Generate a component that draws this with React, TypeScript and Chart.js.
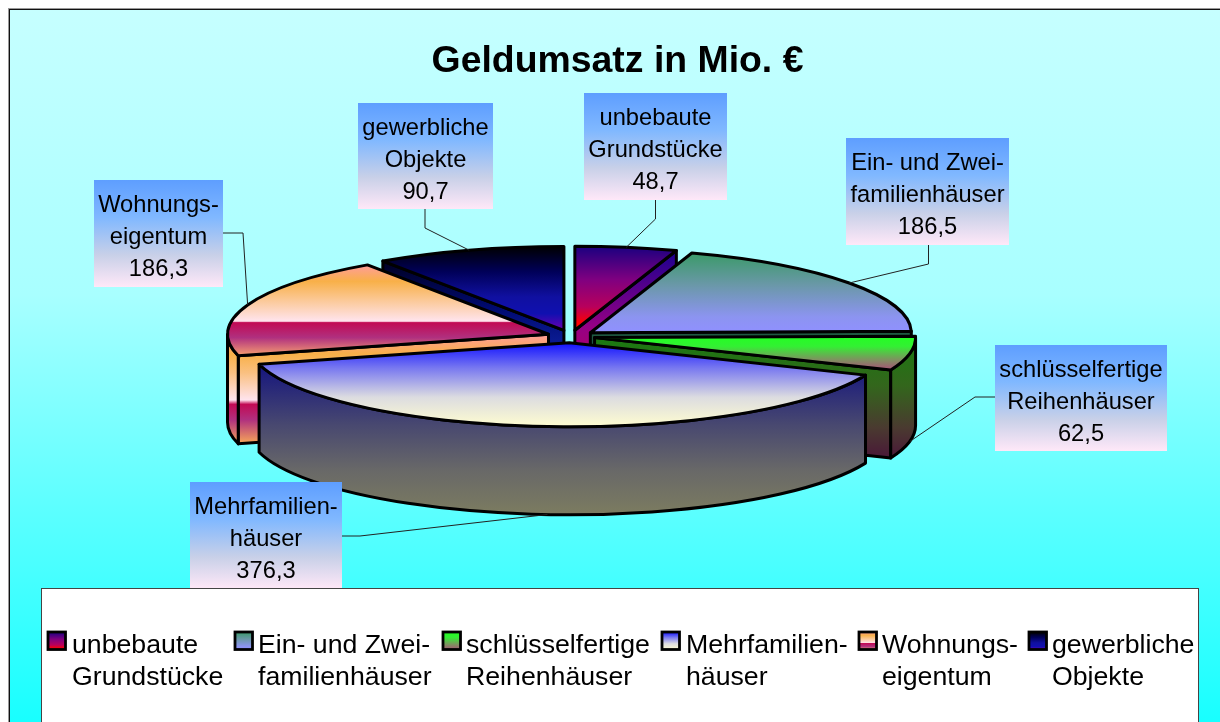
import React, { useEffect, useRef } from "react";
import { Chart, registerables } from "chart.js";

Chart.register(...registerables);

const categories = [
  ["unbebaute", "Grundstücke"],
  ["Ein- und Zwei-", "familienhäuser"],
  ["schlüsselfertige", "Reihenhäuser"],
  ["Mehrfamilien-", "häuser"],
  ["Wohnungs-", "eigentum"],
  ["gewerbliche", "Objekte"],
];
const values = [48.7, 186.5, 62.5, 376.3, 186.3, 90.7];
const chartTitle = "Geldumsatz in Mio. €";

type Stops = [number, string][];
const faceStops: Stops[] = [
  [[0, "#1a0080"], [0.4, "#800080"], [0.72, "#b8005c"], [0.92, "#ff0000"], [1, "#ff0000"]],
  [[0, "#3a9a68"], [0.4, "#6a98a8"], [0.8, "#8c94f0"], [1, "#9090ff"]],
  [[0, "#22ff22"], [0.3, "#33f033"], [0.7, "#7f9060"], [1, "#a85078"]],
  [[0, "#1010ff"], [0.3, "#7878f0"], [0.65, "#dcdce0"], [1, "#fffdd0"]],
  [[0, "#ff9c9c"], [0.18, "#f8b048"], [0.62, "#ffe4ee"], [0.635, "#c20a54"], [0.8, "#b0307f"], [1, "#f8a070"]],
  [[0, "#000000"], [0.3, "#000058"], [0.6, "#1010a0"], [0.8, "#1010b0"], [0.97, "#6000b0"], [1, "#6000b0"]],
];
const wallStops: Stops[] = [
  [[0, "#1a0090"], [0.45, "#950085"], [1, "#d00040"]],
  [[0, "#1e5a40"], [1, "#284a60"]],
  [[0, "#1a7a10"], [0.4, "#33661c"], [0.75, "#4a3a30"], [1, "#4a1838"]],
  [[0, "#14147e"], [0.4, "#484870"], [0.7, "#686868"], [1, "#7c7c60"]],
  [[0, "#ff9c9c"], [0.18, "#f8b048"], [0.35, "#fac080"], [0.6, "#ffe4ee"], [0.64, "#c20a54"], [0.78, "#b0307f"], [1, "#f8a858"]],
  [[0, "#000020"], [0.3, "#000a70"], [0.5, "#0a1a90"], [1, "#1010b0"]],
];
const labelBoxStops: Stops = [[0, "#5e9eff"], [0.35, "#80b8ff"], [0.7, "#c8d0e8"], [1, "#ffe8f8"]];
const backgroundStops: Stops = [[0, "#c6ffff"], [0.4, "#a8ffff"], [0.7, "#5cffff"], [1, "#18ffff"]];

const FONT = '"Liberation Sans", Arial, sans-serif';
const SQUASH = 0.2617;
const DEPTH = 88;

// label box [left, top, right, bottom], attach point and elbow of the leader line
const labelLayout = [
  { box: [584, 93, 727, 200], from: [655.5, 200], elbow: [655.5, 219] },
  { box: [846, 138, 1009, 245], from: [928.5, 245], elbow: [928.5, 264] },
  { box: [995, 345, 1167, 451], from: [995, 397], elbow: [975, 397] },
  { box: [190, 482, 342, 589], from: [342, 536], elbow: [360, 536] },
  { box: [94, 180, 223, 287], from: [223, 233], elbow: [243, 233] },
  { box: [358, 103, 493, 209], from: [425, 209], elbow: [425, 228] },
];
const legendLayout = [
  { swatch: 48, text: 72 },
  { swatch: 235, text: 258 },
  { swatch: 443, text: 466 },
  { swatch: 662, text: 686 },
  { swatch: 859, text: 882 },
  { swatch: 1029, text: 1052 },
];

function grad(ctx: CanvasRenderingContext2D, y0: number, y1: number, stops: Stops) {
  const g = ctx.createLinearGradient(0, y0, 0, y1);
  stops.forEach(([o, c]) => g.addColorStop(o, c));
  return g;
}

function sliceGeometry(el: any) {
  const mid = (el.startAngle + el.endAngle) / 2;
  const d = el.options.offset;
  const R = el.outerRadius;
  const cx = el.x + d * Math.cos(mid);
  const cy = el.y + d * SQUASH * Math.sin(mid);
  const pt = (a: number) => [cx + R * Math.cos(a), cy + R * SQUASH * Math.sin(a)];
  return { mid, cx, cy, R, pt, s: el.startAngle, e: el.endAngle };
}

function drawSlice(ctx: CanvasRenderingContext2D, el: any, i: number) {
  const { cx, cy, R, pt, s, e } = sliceGeometry(el);
  const rY = R * SQUASH;
  ctx.lineWidth = 3;
  ctx.strokeStyle = "#000";
  ctx.lineJoin = "round";

  const ps = pt(s);
  const pe = pt(e);
  const ys = [cy, ps[1], pe[1]];
  const wallTop: number[] = [];
  const faces: number[][] = [];
  if (Math.cos(s) < -1e-6) faces.push(ps);
  if (Math.cos(e) > 1e-6) faces.push(pe);
  faces.forEach((p) => wallTop.push(p[1], cy));
  const r0 = Math.max(s, 0);
  const r1 = Math.min(e, Math.PI);
  const hasRim = r1 > r0;
  if (hasRim) wallTop.push(pt(r0)[1], pt(r1)[1]);

  const wy0 = Math.min(...wallTop);
  const wy1 = Math.max(...wallTop, hasRim && r0 < Math.PI / 2 && r1 > Math.PI / 2 ? cy + rY : -1e9) + DEPTH;
  const wallFill = grad(ctx, wy0, wy1, wallStops[i]);

  faces.forEach((p) => {
    ctx.beginPath();
    ctx.moveTo(cx, cy);
    ctx.lineTo(p[0], p[1]);
    ctx.lineTo(p[0], p[1] + DEPTH);
    ctx.lineTo(cx, cy + DEPTH);
    ctx.closePath();
    ctx.fillStyle = wallFill;
    ctx.fill();
    ctx.stroke();
  });

  if (hasRim) {
    ctx.beginPath();
    ctx.ellipse(cx, cy, R, rY, 0, r0, r1);
    ctx.ellipse(cx, cy + DEPTH, R, rY, 0, r1, r0, true);
    ctx.closePath();
    ctx.fillStyle = wallFill;
    ctx.fill();
    ctx.stroke();
  }

  if (s < -Math.PI / 2 + 1e-6 || e > (3 * Math.PI) / 2 - 1e-6) ys.push(cy - rY);
  if (s < Math.PI / 2 && e > Math.PI / 2) ys.push(cy + rY);
  ctx.beginPath();
  ctx.moveTo(cx, cy);
  ctx.ellipse(cx, cy, R, rY, 0, s, e);
  ctx.closePath();
  ctx.fillStyle = grad(ctx, Math.min(...ys), Math.max(...ys), faceStops[i]);
  ctx.fill();
  ctx.stroke();
}

const scenePlugin = {
  id: "scene",
  afterLayout(chart: any) {
    // the title is centred on the frame's plot, not on the pie
    chart.titleBlock.left = 0;
    chart.titleBlock.right = 1235;
  },
  beforeDraw(chart: any) {
    const { ctx } = chart;
    ctx.save();
    ctx.fillStyle = "#fff";
    ctx.fillRect(0, 0, 1220, 722);
    ctx.fillStyle = grad(ctx, 10, 722, backgroundStops);
    ctx.fillRect(10, 10, 1210, 712);
    ctx.fillStyle = "#999";
    ctx.fillRect(8, 8, 1212, 1);
    ctx.fillRect(8, 8, 1, 714);
    ctx.fillStyle = "#111";
    ctx.fillRect(9, 9, 1211, 1);
    ctx.fillRect(9, 9, 1, 713);
    ctx.restore();
  },
  beforeDatasetsDraw(chart: any) {
    const { ctx } = chart;
    const arcs: any[] = chart.getDatasetMeta(0).data;
    ctx.save();
    arcs
      .map((el, i) => ({ el, i, z: Math.sin((el.startAngle + el.endAngle) / 2) }))
      .sort((a, b) => a.z - b.z)
      .forEach(({ el, i }) => drawSlice(ctx, el, i));
    ctx.restore();
    return false;
  },
  afterDraw(chart: any) {
    const { ctx } = chart;
    const arcs: any[] = chart.getDatasetMeta(0).data;
    ctx.save();
    // leader lines, from the slice's rim at its mid-angle
    arcs.forEach((el, i) => {
      const { mid, pt } = sliceGeometry(el);
      const p = pt(mid);
      const y = Math.sin(mid) > 0 ? p[1] + DEPTH : p[1];
      const { from, elbow } = labelLayout[i];
      ctx.beginPath();
      ctx.moveTo(from[0], from[1]);
      ctx.lineTo(elbow[0], elbow[1]);
      ctx.lineTo(p[0], y);
      ctx.strokeStyle = "#222";
      ctx.lineWidth = 1;
      ctx.stroke();
    });
    // data labels
    ctx.textAlign = "center";
    ctx.textBaseline = "middle";
    categories.forEach((lines, i) => {
      const [x0, y0, x1, y1] = labelLayout[i].box;
      ctx.fillStyle = grad(ctx, y0, y1, labelBoxStops);
      ctx.fillRect(x0, y0, x1 - x0, y1 - y0);
      ctx.fillStyle = "#000";
      ctx.font = `23.7px ${FONT}`;
      const text = [...lines, values[i].toFixed(1).replace(".", ",")];
      text.forEach((t, n) => ctx.fillText(t, (x0 + x1) / 2, y0 + 25.5 + n * 32));
    });
    // legend panel
    ctx.fillStyle = "#fff";
    ctx.fillRect(41, 588, 1158, 140);
    ctx.strokeStyle = "#444";
    ctx.lineWidth = 1;
    ctx.strokeRect(41.5, 588.5, 1157, 140);
    ctx.textAlign = "left";
    ctx.font = `26.7px ${FONT}`;
    categories.forEach((lines, i) => {
      const { swatch, text } = legendLayout[i];
      ctx.fillStyle = grad(ctx, 632, 650, faceStops[i]);
      ctx.fillRect(swatch, 632, 17.5, 17.5);
      ctx.strokeStyle = "#000";
      ctx.lineWidth = 2.8;
      ctx.strokeRect(swatch, 632, 17.5, 17.5);
      ctx.fillStyle = "#000";
      lines.forEach((t, n) => ctx.fillText(t, text, 646 + n * 31.5));
    });
    ctx.restore();
  },
};

export default function App() {
  const ref = useRef<HTMLCanvasElement | null>(null);
  useEffect(() => {
    const chart = new Chart(ref.current as HTMLCanvasElement, {
      type: "pie",
      data: {
        labels: categories.map((c) => c.join(" ")),
        datasets: [{ data: values, offset: 24, borderWidth: 0 }],
      },
      options: {
        responsive: false,
        animation: false,
        radius: 321,
        layout: { padding: { left: 0, right: 78, top: 0, bottom: 134 } },
        plugins: {
          legend: { display: false },
          tooltip: { enabled: false },
          title: {
            display: true,
            text: chartTitle,
            color: "#000",
            font: { family: FONT, size: 37.4, weight: "bold", lineHeight: 1.2 },
            padding: { top: 39.5, bottom: 0.5 },
          },
        },
      },
      plugins: [scenePlugin],
    } as any);
    return () => chart.destroy();
  }, []);
  return (
    <canvas
      ref={ref}
      width={1220}
      height={722}
      style={{ position: "absolute", left: 0, top: 0, display: "block" }}
    />
  );
}
